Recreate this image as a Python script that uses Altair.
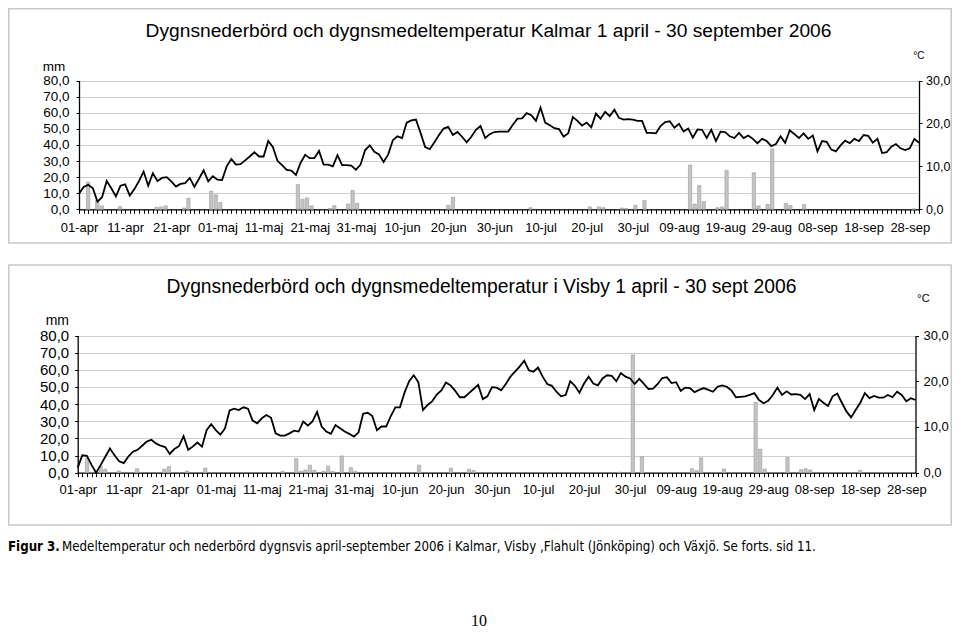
import altair as alt
import pandas as pd

W, H = 944, 620
FONT = "Liberation Sans"

tick_labels = ["01-apr", "11-apr", "21-apr", "01-maj", "11-maj", "21-maj", "31-maj",
               "10-jun", "20-jun", "30-jun", "10-jul", "20-jul", "30-jul", "09-aug",
               "19-aug", "29-aug", "08-sep", "18-sep", "28-sep"]

days = list(range(183))

kalmar_temp = [3.6, 5.2, 5.7, 4.9, 1.8, 2.8, 6.6, 4.9, 3.0, 5.5,
               5.8, 3.2, 4.7, 6.6, 8.8, 5.5, 8.4, 6.6, 7.3, 7.5,
               6.5, 5.3, 5.9, 6.1, 7.3, 5.2, 7.1, 9.1, 6.5, 7.7,
               6.9, 6.8, 10.0, 11.7, 10.4, 10.5, 11.4, 12.3, 13.3, 12.3,
               12.3, 15.9, 14.5, 11.3, 10.3, 9.2, 9.0, 8.0, 10.8, 12.7,
               11.9, 11.9, 13.6, 10.4, 10.4, 10.0, 12.6, 10.3, 10.3, 10.2,
               9.2, 10.4, 13.8, 14.9, 13.4, 12.8, 11.0, 12.8, 16.1, 17.0,
               16.6, 20.2, 20.7, 20.9, 17.8, 14.5, 14.0, 15.6, 17.3, 18.8,
               19.2, 17.3, 18.0, 16.9, 15.6, 16.9, 18.5, 19.4, 16.6, 17.5,
               18.0, 18.1, 18.1, 18.1, 19.7, 21.1, 21.2, 22.4, 21.9, 20.6,
               23.7, 20.2, 19.6, 18.9, 18.7, 16.9, 17.7, 21.5, 20.6, 19.5,
               20.2, 19.1, 22.3, 21.1, 22.7, 21.7, 23.2, 21.3, 20.9, 21.0,
               20.9, 20.6, 20.6, 17.8, 17.8, 17.7, 19.4, 20.3, 20.5, 19.0,
               19.9, 18.1, 18.8, 16.7, 18.6, 18.5, 16.6, 18.5, 15.9, 18.1,
               18.0, 17.0, 16.6, 17.8, 16.6, 17.2, 16.4, 15.4, 16.4, 15.9,
               14.7, 15.2, 17.0, 15.5, 18.4, 17.5, 16.6, 17.7, 16.4, 17.2,
               13.5, 15.9, 15.7, 13.9, 13.5, 14.9, 16.0, 15.4, 16.4, 15.9,
               17.3, 17.1, 15.5, 16.4, 13.1, 13.3, 14.6, 15.2, 14.2, 13.8,
               14.2, 16.4, 15.5]

kalmar_rain_day = [0, 2, 3, 7, 15, 16, 17, 21, 22, 27, 28, 29, 46, 47, 48, 49, 53, 54,
                   57, 58, 59, 79, 80, 97, 110, 112, 113, 117, 118, 120, 122, 132, 133,
                   134, 135, 138, 139, 140, 146, 147, 149, 150, 153, 154, 157, 181]
kalmar_rain_mm = [16.9, 5.4, 2.1, 1.7, 1.25, 1.5, 2.1, 0.8, 6.9, 11.25, 9.0, 4.2, 15.4,
                  6.25, 7.1, 2.1, 0.5, 2.3, 3.3, 11.7, 3.75, 2.5, 7.5, 1.0, 1.5, 1.5, 1.0,
                  0.8, 0.5, 2.5, 5.4, 27.5, 3.3, 14.8, 4.8, 1.0, 1.5, 24.2, 22.7, 2.1, 3.1,
                  37.5, 3.75, 2.5, 2.9, 0.3]

visby_temp = [1.1, 3.8, 3.7, 1.7, 0.0, 1.7, 3.5, 5.3, 3.8, 2.5,
              2.1, 3.5, 4.6, 5.0, 5.9, 6.8, 7.2, 6.4, 5.9, 5.6,
              4.1, 5.2, 5.8, 8.0, 5.0, 5.7, 6.6, 5.7, 9.3, 10.6,
              9.3, 8.3, 9.7, 13.6, 14.0, 13.7, 14.3, 14.0, 11.4, 10.8,
              11.9, 12.6, 12.0, 8.6, 8.1, 8.1, 8.6, 9.2, 9.0, 11.2,
              10.3, 11.2, 13.3, 10.1, 9.0, 8.5, 10.4, 9.7, 9.0, 8.5,
              7.9, 8.8, 12.9, 13.1, 12.4, 9.3, 10.1, 10.1, 12.3, 14.3,
              14.3, 17.5, 20.0, 21.3, 19.8, 13.7, 14.8, 15.6, 17.1, 18.0,
              19.7, 19.1, 17.9, 16.5, 16.5, 17.4, 18.3, 19.2, 16.1, 16.7,
              18.7, 18.6, 18.0, 19.4, 21.0, 22.1, 23.2, 24.5, 22.4, 22.1,
              23.0, 21.0, 19.4, 19.0, 17.7, 16.7, 17.0, 20.0, 19.0, 17.5,
              19.5, 21.0, 19.5, 19.1, 20.6, 21.3, 21.2, 20.0, 21.8, 21.0,
              20.6, 19.4, 20.5, 19.4, 18.3, 18.4, 19.4, 20.7, 20.9, 19.6,
              19.8, 17.9, 18.6, 18.5, 17.6, 18.1, 18.5, 18.1, 17.7, 18.8,
              19.1, 18.8, 18.0, 16.5, 16.6, 16.7, 17.0, 17.4, 15.9, 15.2,
              15.7, 17.0, 18.6, 17.0, 17.8, 17.1, 17.2, 17.0, 16.1, 17.2,
              13.7, 16.1, 15.3, 14.6, 16.7, 17.3, 15.3, 13.4, 12.1, 13.7,
              15.3, 17.4, 16.3, 16.8, 16.4, 16.4, 17.0, 16.5, 17.7, 17.0,
              15.6, 16.3, 15.9]

visby_rain_day = [0, 3, 4, 7, 11, 17, 18, 22, 26, 43, 46, 47, 48, 49, 50, 52, 53, 54,
                  56, 58, 59, 73, 80, 84, 85, 117, 120, 122, 133, 134, 135, 140, 147,
                  148, 149, 154, 157, 158, 159, 170]
visby_rain_mm = [8.5, 3.9, 2.0, 1.0, 2.3, 2.1, 3.5, 1.0, 2.7, 0.8, 8.2, 0.8, 1.6, 4.4,
                 1.4, 0.8, 3.8, 0.8, 9.8, 3.0, 0.8, 4.4, 2.6, 2.0, 1.2, 0.3, 68.7, 9.3,
                 2.3, 1.2, 8.7, 2.2, 41.0, 13.8, 2.1, 8.9, 1.8, 2.3, 1.6, 1.4]

label_arr = "[" + ",".join("'%s'" % s for s in tick_labels) + "]"
x_label_expr = "datum.value % 10 == 0 ? " + label_arr + "[floor(datum.value / 10)] : ''"
comma_expr = "replace(datum.label, '.', ',')"


def panel(temp, rain_day, rain_mm, xr, yr, bar_shift, lsize, rsize, lpad, rpad, xpad):
    xs = alt.Scale(domain=[0, 182], range=xr, nice=False, zero=False)
    tdf = pd.DataFrame({"d": days, "t": temp})
    rdf = pd.DataFrame({"d": rain_day, "mm": rain_mm})
    bars = alt.Chart(rdf).transform_calculate(
        bx="datum.d + %s" % bar_shift
    ).mark_bar(size=3.3, fill="#c4c4c4", stroke="#9c9c9c", strokeWidth=0.6).encode(
        x=alt.X("bx:Q", scale=xs, axis=None),
        y=alt.Y("mm:Q", scale=alt.Scale(domain=[0, 80], range=yr, nice=False),
                axis=alt.Axis(orient="left", offset=-xr[0], values=list(range(0, 90, 10)),
                              format=".1f", labelExpr=comma_expr, grid=True,
                              gridColor="#cfcfcf", gridWidth=1, domainColor="black",
                              domainWidth=1.3, tickColor="black", tickSize=3,
                              labelFontSize=lsize, labelFont=FONT, labelColor="black",
                              labelPadding=lpad, title=None)),
    )
    line = alt.Chart(tdf).mark_line(color="black", strokeWidth=1.8).encode(
        x=alt.X("d:Q", scale=xs,
                axis=alt.Axis(orient="bottom", offset=-(H - yr[0]), values=days,
                              labelExpr=x_label_expr, labelOverlap=False, labelFlush=False,
                              labelFontSize=13, labelFont=FONT, labelColor="black",
                              labelPadding=xpad, tickSize=4, tickColor="black",
                              tickWidth=1, domainColor="black", domainWidth=1.3,
                              grid=False, title=None)),
        y=alt.Y("t:Q", scale=alt.Scale(domain=[0, 30], range=yr, nice=False),
                axis=alt.Axis(orient="right", offset=-(W - xr[1]), values=[0, 10, 20, 30],
                              format=".1f", labelExpr=comma_expr, grid=False,
                              domainColor="black", domainWidth=1.3, tickColor="black",
                              tickSize=3, labelFontSize=rsize, labelFont=FONT,
                              labelColor="black", labelPadding=rpad, title=None)),
    )
    return [bars, line]


def txt(s, x, y, size, weight="normal", font=FONT, align="left"):
    return alt.Chart(pd.DataFrame({"s": [s]})).mark_text(
        fontSize=size, fontWeight=weight, font=font, align=align,
        baseline="alphabetic", color="black"
    ).encode(text="s:N", x=alt.value(x), y=alt.value(y))


def frame(x1, y1, x2, y2):
    return alt.Chart(pd.DataFrame({"k": [0]})).mark_rect(
        fill="white", fillOpacity=0, stroke="#c8c8c8", strokeWidth=1.5
    ).encode(x=alt.value(x1), x2=alt.value(x2), y=alt.value(y1), y2=alt.value(y2))


CAP_FONT = "DejaVu Sans Condensed, Liberation Sans, Arial, sans-serif"

layers = []
layers.append(frame(0.8, 0.8, 943.2, 235))
layers.append(frame(0.8, 257, 943.2, 517))
layers += panel(kalmar_temp, kalmar_rain_day, kalmar_rain_mm, [71, 911], [201.3, 72.5],
                0.9, 13.5, 12.5, 7, 3.5, 8)
layers += panel(visby_temp, visby_rain_day, visby_rain_mm, [69.7, 907.5], [464.7, 327.5],
                0.95, 15, 13, 6, 4.5, 7)

layers.append(txt("Dygnsnederbörd och dygnsmedeltemperatur Kalmar 1 april - 30 september 2006",
                  480.5, 29.3, 19.2, align="center"))
layers.append(txt("Dygnsnederbörd och dygnsmedeltemperatur i Visby 1 april - 30 sept 2006",
                  473.5, 284.7, 19.3, align="center"))
layers.append(txt("mm", 34.7, 62.5, 13.5))
layers.append(txt("mm", 37.7, 316.5, 14))
layers.append(txt("°C", 905.3, 51.3, 10))
layers.append(txt("°C", 909.3, 293.7, 11))
layers.append(txt("Figur 3.", 0, 543, 13.2, weight="bold", font=CAP_FONT))
layers.append(txt("Medeltemperatur och nederbörd dygnsvis april-september 2006 i Kalmar, "
                  "Visby ,Flahult (Jönköping) och Växjö. Se forts. sid 11.",
                  54, 543, 13.2, font=CAP_FONT))
layers.append(txt("10", 471, 618, 16, font="Liberation Serif", align="center"))

chart = alt.layer(*layers).resolve_scale(
    x="independent", y="independent"
).resolve_axis(
    x="independent", y="independent"
).properties(
    width=W, height=H, padding=0, autosize=alt.AutoSizeParams(type="none")
).configure_view(stroke=None)

chart.save("out.html", embed_options={"renderer": "svg", "actions": False})
